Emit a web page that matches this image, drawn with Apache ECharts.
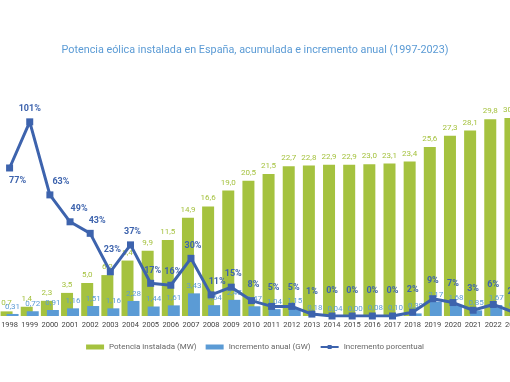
<!DOCTYPE html>
<html><head><meta charset="utf-8">
<script src="https://cdn.jsdelivr.net/npm/echarts@6/dist/echarts.min.js"></script>
<style>html,body{margin:0;padding:0;background:#fff;}#c{width:510px;height:382px;}</style>
</head><body><div id="c"></div>
<script>
const years = ['1998','1999','2000','2001','2002','2003','2004','2005','2006','2007','2008','2009','2010','2011','2012','2013','2014','2015','2016','2017','2018','2019','2020','2021','2022','2023'];
const potencia = [0.7,1.4,2.3,3.5,5.0,6.2,8.4,9.9,11.5,14.9,16.6,19.0,20.5,21.5,22.7,22.8,22.9,22.9,23.0,23.1,23.4,25.6,27.3,28.1,29.8,30.4];
const incremento = [0.31,0.72,0.91,1.16,1.51,1.16,2.28,1.44,1.61,3.43,1.64,2.45,1.47,1.04,1.15,0.18,0.04,0.00,0.08,0.10,0.39,2.17,1.68,0.85,1.67,0.64];
const porcentual = [77,101,63,49,43,23,37,17,16,30,11,15,8,5,5,1,0,0,0,0,2,9,7,3,6,2];

// label placement tweaks for the percentage line (style only)
const lineLabelOffsets = [[8,0],[0,0],[11,0],[9,0],[7,0],[2,-9],[2,0],[2,0],[2,0],[2,0],[6,0],[2,0],[2,-3],[2,-6],[2,-6],[0,-9],[0,-12],[0,-12],[0,-12],[0,-12],[0,-9],[0,-5],[0,-6],[0,-8],[0,-7],[0,-7]];

const FONT = 'Roboto';
const fmt = (v, d) => v.toFixed(d).replace('.', ',');

const lineData = porcentual.map((v, i) => {
  const o = { value: v, label: { offset: lineLabelOffsets[i] } };
  if (i === 0) o.label.position = 'bottom';
  return o;
});

const chart = echarts.init(document.getElementById('c'), null, { renderer: 'canvas' });
chart.setOption({
  animation: false,
  backgroundColor: '#ffffff',
  title: {
    text: 'Potencia eólica instalada en España, acumulada e incremento anual (1997-2023)',
    left: 'center', top: 40,
    textStyle: { color: '#5b9bd5', fontSize: 10.8, fontWeight: 'normal', fontFamily: FONT }
  },
  legend: {
    bottom: 26, left: 'center',
    itemWidth: 18, itemHeight: 5, itemGap: 9,
    textStyle: { color: '#666', fontSize: 8, fontFamily: FONT },
    data: [
      { name: 'Potencia instalada (MW)', icon: 'rect' },
      { name: 'Incremento anual (GW)', icon: 'rect' },
      { name: 'Incremento porcentual' }
    ]
  },
  grid: { left: -0.5, width: 524, bottom: 66, height: 198, outerBoundsMode: 'none', containLabel: false },
  xAxis: {
    type: 'category', data: years,
    axisLine: { show: false }, axisTick: { show: false },
    axisLabel: { color: '#444', fontSize: 7.5, fontFamily: FONT, margin: 5, interval: 0 }
  },
  yAxis: [
    { type: 'value', min: 0, max: 30, show: false },
    { type: 'value', min: 0, max: 103, show: false }
  ],
  series: [
    {
      name: 'Potencia instalada (MW)', type: 'bar', data: potencia,
      barWidth: 12, barGap: '-50%',
      itemStyle: { color: '#a5c23f' },
      label: { show: true, position: 'top', distance: 4, color: '#a5c23f', fontSize: 8, fontFamily: FONT,
        formatter: p => fmt(p.value, 1) }
    },
    {
      name: 'Incremento anual (GW)', type: 'bar', data: incremento,
      barWidth: 12,
      itemStyle: { color: '#5b9bd5' },
      label: { show: true, position: 'top', distance: 3, color: '#5b9bd5', fontSize: 8, fontFamily: FONT,
        formatter: p => fmt(p.value, 2) }
    },
    {
      name: 'Incremento porcentual', type: 'line', yAxisIndex: 1, data: lineData,
      symbol: 'rect', symbolSize: 7,
      lineStyle: { color: '#3d63ad', width: 3 },
      itemStyle: { color: '#3d63ad' },
      label: { show: true, position: 'top', distance: 5, color: '#3d63ad', fontSize: 9, fontWeight: 'bold', fontFamily: FONT,
        formatter: p => p.value + '%' },
      z: 5
    }
  ]
});
</script>
</body></html>
